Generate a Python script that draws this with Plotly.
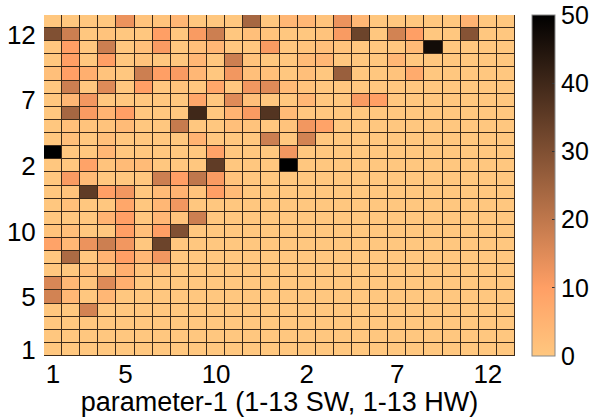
import plotly.graph_objects as go

n_cols = 26
n_rows = 26
tick_positions = [1, 5, 10, 15, 20, 25]
tick_labels = ["1", "5", "10", "2", "7", "12"]
axis_title = "parameter-1 (1-13 SW, 1-13 HW)"

# non-zero cells per row: {row: {column: value}}
row_26 = {5: 13, 6: 1, 7: 1, 8: 4, 12: 24, 14: 4, 15: 4, 16: 1, 17: 13, 18: 4, 24: 5}
row_25 = {1: 30, 2: 18, 4: 1, 7: 10, 9: 11, 10: 18, 12: 2, 13: 1, 16: 1, 17: 11, 18: 33, 20: 17, 21: 10, 24: 29}
row_24 = {2: 10, 4: 18, 6: 2, 7: 11, 9: 2, 10: 4, 13: 11, 15: 1, 16: 2, 17: 1, 21: 3, 22: 47}
row_23 = {2: 10, 4: 10, 6: 1, 9: 4, 11: 18, 12: 1, 15: 3, 16: 4, 20: 4}
row_22 = {1: 2, 2: 10, 3: 6, 4: 1, 6: 18, 7: 10, 8: 11, 9: 4, 11: 12, 12: 2, 13: 2, 15: 2, 17: 26, 20: 1, 21: 7}
row_21 = {2: 18, 4: 15, 6: 10, 8: 1, 10: 8, 12: 12, 13: 15, 14: 3, 15: 1}
row_20 = {2: 4, 3: 12, 9: 8, 11: 15, 12: 2, 15: 4, 18: 11, 19: 10}
row_19 = {2: 24, 3: 11, 4: 5, 5: 10, 9: 40, 11: 5, 12: 11, 13: 37, 14: 3}
row_18 = {2: 2, 3: 1, 4: 1, 5: 3, 8: 19, 11: 2, 12: 1, 14: 1, 15: 12, 16: 9}
row_17 = {2: 2, 4: 2, 9: 5, 13: 18, 15: 17}
row_16 = {1: 50, 4: 4, 10: 9, 14: 12}
row_15 = {3: 9, 4: 1, 5: 3, 6: 3, 10: 35, 14: 50}
row_14 = {2: 11, 3: 3, 7: 18, 8: 10, 9: 20, 10: 11, 11: 1}
row_13 = {2: 1, 3: 35, 4: 10, 5: 12, 7: 3, 8: 5, 9: 1, 10: 10, 11: 3}
row_12 = {2: 2, 5: 8, 7: 4, 8: 12}
row_11 = {4: 5, 5: 10, 7: 4, 8: 1, 9: 18}
row_10 = {1: 1, 2: 2, 5: 10, 6: 2, 7: 10, 8: 30}
row_9 = {1: 9, 2: 4, 3: 13, 4: 18, 5: 12, 7: 33}
row_8 = {2: 23, 4: 5, 5: 10, 6: 4, 7: 12}
row_7 = {3: 2, 4: 1, 5: 6, 6: 1, 7: 1}
row_6 = {1: 16, 2: 4, 3: 1, 4: 15, 5: 6}
row_5 = {1: 17, 2: 4, 4: 4}
row_4 = {3: 17}
row_3 = {}
row_2 = {}
row_1 = {}

rows = [row_1, row_2, row_3, row_4, row_5, row_6, row_7, row_8, row_9, row_10, row_11, row_12, row_13,
        row_14, row_15, row_16, row_17, row_18, row_19, row_20, row_21, row_22, row_23, row_24, row_25, row_26]
z = [[r.get(c, 0) for c in range(1, n_cols + 1)] for r in rows]
axis_positions = list(range(1, n_cols + 1))

font = "Liberation Sans, Arial, sans-serif"
fig = go.Figure(go.Heatmap(
    z=z, x=axis_positions, y=axis_positions, zmin=0, zmax=50, xgap=1, ygap=1,
    colorscale=[[0, "rgb(255,199,127)"], [0.2, "rgb(255,159,101)"], [1, "rgb(0,0,0)"]],
    colorbar=dict(
        x=1.036, xanchor="left", xpad=0, y=0.5, yanchor="middle", ypad=0, len=1,
        thickness=23, outlinecolor="#888888", outlinewidth=1,
        ticks="inside", ticklen=3, tickcolor="#333333", tickvals=[0, 10, 20, 30, 40, 50],
        tickfont=dict(family=font, size=25, color="black"),
    ),
))
fig.update_layout(
    width=600, height=417, margin=dict(l=44, r=85, t=15, b=61, autoexpand=False),
    paper_bgcolor="white", plot_bgcolor="#3c2a1a", showlegend=False,
    font=dict(family=font, color="black"),
)
fig.update_xaxes(
    range=[0.5, n_cols + 0.5], tickmode="array", tickvals=tick_positions, ticktext=tick_labels,
    ticks="", tickfont=dict(family=font, size=26), showgrid=False, zeroline=False,
    title=dict(text=axis_title, font=dict(family=font, size=27), standoff=2),
    showline=False,
)
fig.update_yaxes(
    range=[0.5, n_rows + 0.5], tickmode="array", tickvals=tick_positions, ticktext=tick_labels,
    ticks="outside", ticklen=2, tickcolor="rgba(0,0,0,0)",
    tickfont=dict(family=font, size=26), showgrid=False, zeroline=False, showline=False,
)
fig.write_html("out.html", config={"displayModeBar": False}, post_script="document.body.style.margin='0';")
